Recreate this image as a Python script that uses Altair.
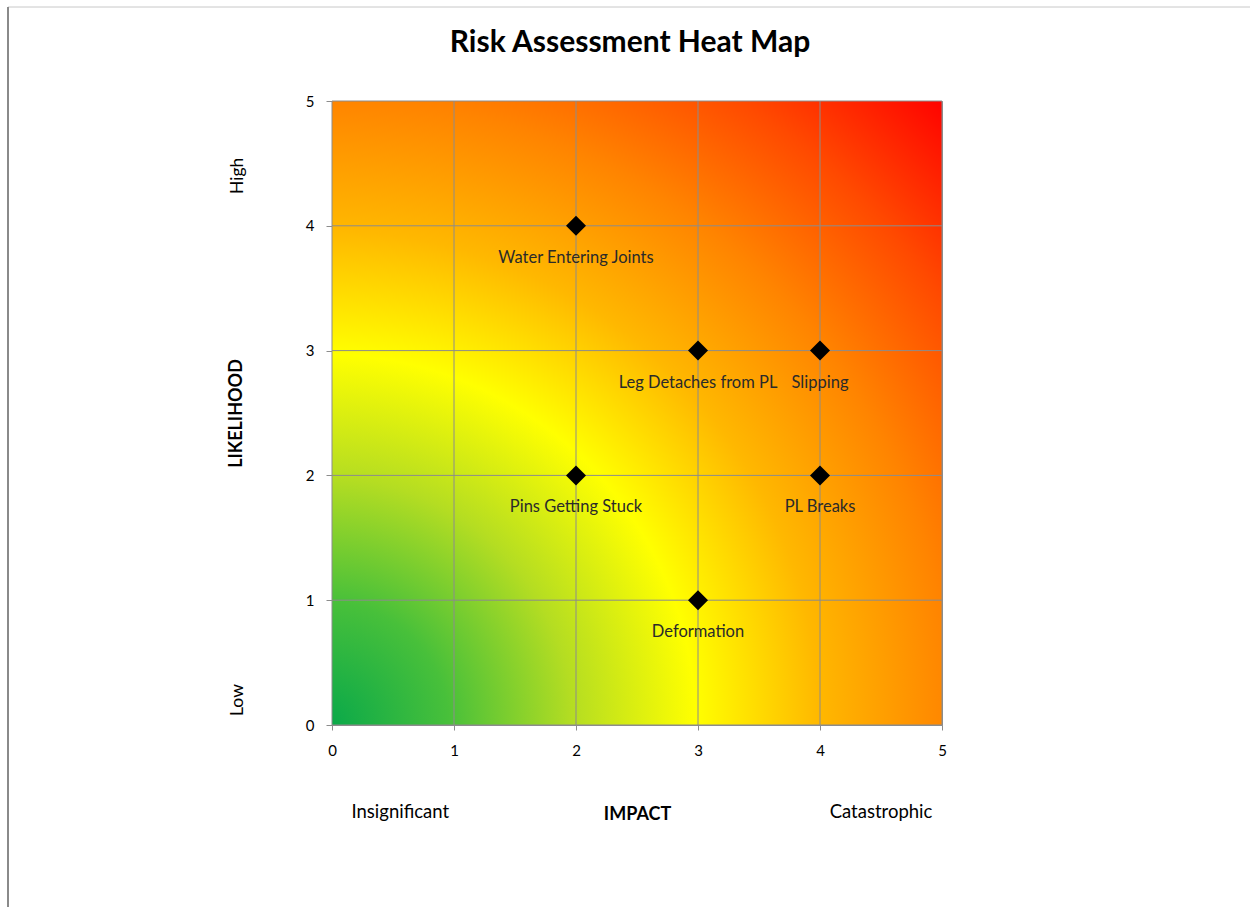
import altair as alt
import pandas as pd

# Risk items (impact, likelihood)
risks = ["Water Entering Joints", "Leg  Detaches from PL", "Slipping",
         "Pins Getting Stuck", "PL Breaks", "Deformation"]
impact = [2, 3, 4, 2, 4, 3]
likelihood = [4, 3, 3, 2, 2, 1]

ticks = [0, 1, 2, 3, 4, 5]

# End-of-scale annotations
impact_ends = ["Insignificant", "Catastrophic"]
impact_end_pos = [0.56, 4.5]
likelihood_ends = ["High", "Low"]
likelihood_end_pos = [4.4, 0.2]

FONT = "Lato"

df = pd.DataFrame({"risk": risks, "impact": impact, "likelihood": likelihood})
bg_df = pd.DataFrame({"x": [0], "x2": [5], "y": [0], "y2": [5]})
ie_df = pd.DataFrame({"label": impact_ends, "x": impact_end_pos})
le_df = pd.DataFrame({"label": likelihood_ends, "y": likelihood_end_pos})

xscale = alt.Scale(domain=[0, 5], nice=False)
yscale = alt.Scale(domain=[0, 5], nice=False)

grad = alt.RadialGradient(
    gradient="radial",
    x1=0, y1=1, r1=0,
    x2=0, y2=1, r2=1.414,
    stops=[
        alt.GradientStop(offset=0.0, color="#08a84a"),
        alt.GradientStop(offset=0.14, color="#48c03a"),
        alt.GradientStop(offset=0.28, color="#b4dd22"),
        alt.GradientStop(offset=0.42, color="#ffff00"),
        alt.GradientStop(offset=0.56, color="#ffb800"),
        alt.GradientStop(offset=0.71, color="#ff8400"),
        alt.GradientStop(offset=0.85, color="#ff4a00"),
        alt.GradientStop(offset=1.0, color="#ff0000"),
    ],
)

bg = alt.Chart(bg_df).mark_rect(fill=grad).encode(
    x=alt.X("x:Q", scale=xscale,
            axis=alt.Axis(values=ticks, title="IMPACT", grid=True, format="d",
                          titlePadding=47, titleFontSize=18, titleFontWeight="bold",
                          labelPadding=13, tickSize=5, labelFlush=False)),
    x2="x2:Q",
    y=alt.Y("y:Q", scale=yscale,
            axis=alt.Axis(values=ticks, title="LIKELIHOOD", grid=True, format="d",
                          titlePadding=60, titleFontSize=18, titleFontWeight="bold",
                          labelPadding=12, tickSize=6, labelFlush=False)),
    y2="y2:Q",
)

# grid on top of gradient
grid_x = alt.Chart(pd.DataFrame({"v": ticks})).mark_rule(color="#8c8c8c", strokeWidth=1).encode(
    x=alt.X("v:Q", scale=xscale))
grid_y = alt.Chart(pd.DataFrame({"v": ticks})).mark_rule(color="#8c8c8c", strokeWidth=1).encode(
    y=alt.Y("v:Q", scale=yscale))

pts = alt.Chart(df).mark_point(shape="diamond", filled=True, color="black",
                               size=400, opacity=1).encode(
    x=alt.X("impact:Q", scale=xscale),
    y=alt.Y("likelihood:Q", scale=yscale),
)

labels = alt.Chart(df).mark_text(dy=32, fontSize=16.5, font=FONT, color="#2a2a2a").encode(
    x=alt.X("impact:Q", scale=xscale),
    y=alt.Y("likelihood:Q", scale=yscale),
    text="risk:N",
)

ie = alt.Chart(ie_df).mark_text(fontSize=18.5, font=FONT, color="black").encode(
    x=alt.X("x:Q", scale=xscale),
    y=alt.value(711),
    text="label:N",
)

le = alt.Chart(le_df).mark_text(fontSize=17.5, font=FONT, color="black", angle=270).encode(
    x=alt.value(-94),
    y=alt.Y("y:Q", scale=yscale),
    text="label:N",
)

frame_top = alt.Chart(bg_df).mark_rule(color="#c8c8c8", strokeWidth=1).encode(
    x=alt.value(-324), x2=alt.value(918), y=alt.value(-94))
frame_left = alt.Chart(bg_df).mark_rule(color="#8a8a8a", strokeWidth=2).encode(
    x=alt.value(-324), y=alt.value(-94), y2=alt.value(806))

chart = alt.layer(bg, grid_x, grid_y, pts, labels, ie, le, frame_top, frame_left).properties(
    width=610, height=624,
    title=alt.Title("Risk Assessment Heat Map", fontSize=30, fontWeight="bold",
                    font=FONT, color="black", offset=-52, anchor="middle", dx=-7,
                    frame="group"),
    autosize=alt.AutoSizeParams(type="none"),
    padding={"left": 332, "top": 101, "right": 308, "bottom": 182},
    background="white",
).configure_view(stroke=None).configure_axis(
    labelFont=FONT, titleFont=FONT, labelFontSize=15, labelColor="black",
    titleColor="black", domainColor="#8c8c8c", tickColor="#8c8c8c",
    gridColor="#8c8c8c", gridOpacity=1,
)

chart.save("out.html", embed_options={"renderer": "svg", "actions": False})
